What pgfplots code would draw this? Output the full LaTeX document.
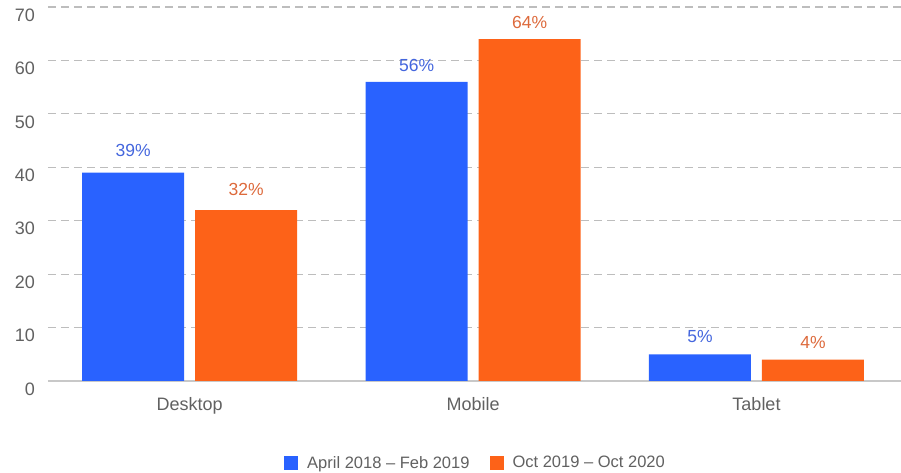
\documentclass[border=0pt]{standalone}
\usepackage{pgfplots}
\pgfplotsset{compat=1.18}
\usepackage{fontspec}
\setmainfont{Liberation Sans}
\definecolor{barblue}{HTML}{2962FF}
\definecolor{barorange}{HTML}{FD6218}
\definecolor{lblblue}{HTML}{4466DD}
\definecolor{lblorange}{HTML}{DD6A3C}
\definecolor{gridgray}{HTML}{BDBDBD}
\definecolor{basegray}{HTML}{C8C8C8}
\definecolor{textgray}{HTML}{616161}

% x = category, y = share in %, dy = gap of the label above the bar (pt)
\pgfplotstableread{
x y dy
0 39 16
1 56 9.5
2 5 11
}\firstperiod
\pgfplotstableread{
x y dy
0 32 14.5
1 64 10
2 4 11
}\secondperiod

\begin{document}
\begin{tikzpicture}
\begin{axis}[
  at={(48pt,92pt)}, anchor=south west,
  scale only axis, width=853pt, height=374pt,
  ybar=11pt, bar width=102pt,
  xmin=-0.5, xmax=2.51, ymin=0, ymax=70,
  xtick={0,1,2}, xticklabels={Desktop,Mobile,Tablet},
  ytick={10,20,...,70},
  extra y ticks={0},
  extra y tick style={grid style={solid, draw=basegray, line width=1.5pt}},
  ymajorgrids,
  grid style={dashed, draw=gridgray, line width=1.2pt, dash pattern=on 8pt off 5pt},
  axis line style={draw=none},
  major tick length=0pt,
  /pgf/number format/assume math mode=true,
  tick label style={font=\fontsize{18}{20}\selectfont, text=textgray},
  yticklabel style={anchor=north east, inner sep=0pt, xshift=-13pt, yshift=-1.5pt},
  xticklabel style={anchor=north, inner sep=0pt, yshift=-16pt},
  visualization depends on={\thisrow{dy}\as\dy},
  nodes near coords={\pgfmathprintnumber{\pgfplotspointmeta}\%},
  nodes near coords style={anchor=south, inner sep=0pt, yshift=\dy pt,
    font=\fontsize{17.5}{20}\selectfont},
  legend style={at={(0.5,-0.219)}, anchor=center, draw=none, inner sep=0pt,
    legend columns=-1, font=\fontsize{16.5}{18}\selectfont, text=textgray,
    nodes={inner sep=0pt},
    /tikz/every odd column/.append style={column sep=9pt},
    /tikz/every even column/.append style={column sep=20pt}},
  legend image code/.code={\fill[#1] (0pt,-7pt) rectangle (14pt,7pt);},
]
\addplot[fill=barblue, draw=none,
  every node near coord/.append style={text=lblblue}]
  table[x=x, y=y] {\firstperiod};
\addlegendentry{April 2018 – Feb 2019}
\addplot[fill=barorange, draw=none,
  every node near coord/.append style={text=lblorange}]
  table[x=x, y=y] {\secondperiod};
\addlegendentry{Oct 2019 – Oct 2020}
\end{axis}
\pgfresetboundingbox
\path[use as bounding box] (0,0) rectangle (901pt,473pt);
\end{tikzpicture}
\end{document}
